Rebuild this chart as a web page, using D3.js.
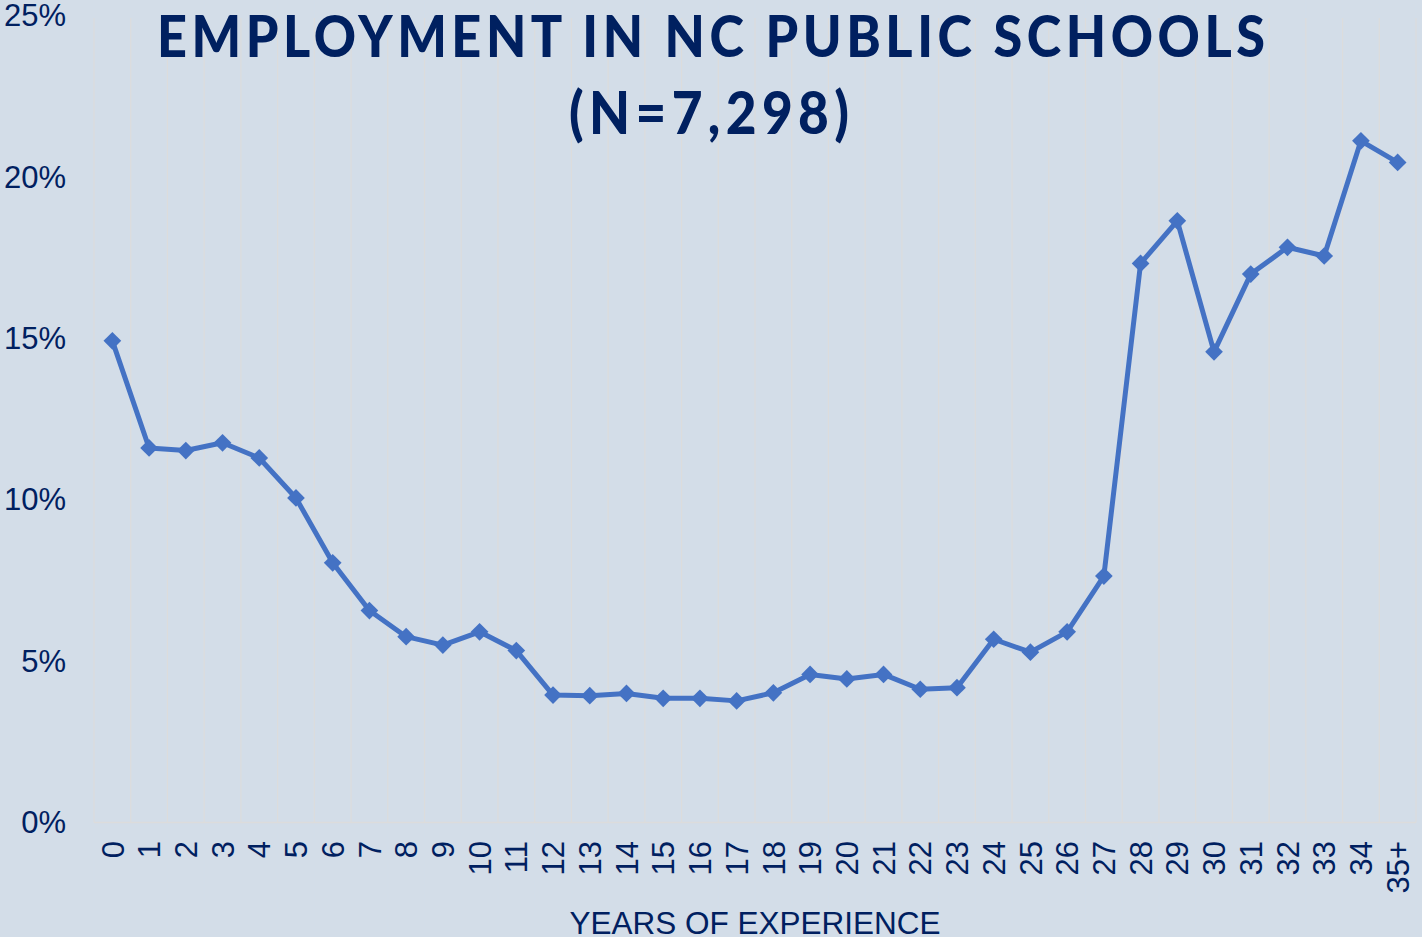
<!DOCTYPE html>
<html>
<head>
<meta charset="utf-8">
<script src="https://cdn.jsdelivr.net/npm/d3@7"></script>
<style>
  body { margin: 0; background: #d3dde8; }
  svg { display: block; }
</style>
</head>
<body>
<script>
// years of experience categories
const years = ["0","1","2","3","4","5","6","7","8","9","10","11","12","13","14","15","16","17",
  "18","19","20","21","22","23","24","25","26","27","28","29","30","31","32","33","34","35+"];

// percent employed in NC public schools
const pctEmployed = [14.93, 11.61, 11.53, 11.77, 11.30, 10.06, 8.05, 6.57, 5.76, 5.50, 5.91, 5.33,
  3.95, 3.93, 4.00, 3.85, 3.85, 3.77, 4.02, 4.59, 4.45, 4.59, 4.13, 4.18,
  5.68, 5.28, 5.91, 7.64, 17.33, 18.65, 14.59, 17.00, 17.83, 17.56, 21.13, 20.46];

const yTicks = [0, 5, 10, 15, 20, 25];
const titleLines = ["EMPLOYMENT IN NC PUBLIC SCHOOLS", "(N=7,298)"];
const xTitle = "YEARS OF EXPERIENCE";

const W = 1422, H = 937;
const navy = "#002060", blue = "#4472c4", grid = "#dcdcdc";

const svg = d3.select("body").append("svg")
  .attr("width", W)
  .attr("height", H);

svg.append("rect")
  .attr("width", W).attr("height", H)
  .attr("fill", "#d3dde8");

const x = d3.scaleBand()
  .domain(years)
  .range([94, 1416])
  .padding(0);

const y = d3.scaleLinear()
  .domain([0, 25])
  .range([822.5, 16]);

// vertical gridlines at category boundaries
svg.append("g")
  .selectAll("line")
  .data(years.concat(["end"]))
  .enter()
    .append("line")
      .attr("x1", (d, i) => 94 + i * x.bandwidth())
      .attr("x2", (d, i) => 94 + i * x.bandwidth())
      .attr("y1", 18)
      .attr("y2", y(0))
      .attr("stroke", grid)
      .attr("stroke-width", 1.2);

// baseline
svg.append("line")
  .attr("x1", 94).attr("x2", 1416)
  .attr("y1", y(0)).attr("y2", y(0))
  .attr("stroke", grid)
  .attr("stroke-width", 1.5);

// y axis labels
const yAxis = d3.axisLeft(y)
  .tickValues(yTicks)
  .tickFormat(d => d + "%")
  .tickSize(0)
  .tickPadding(0);

const gy = svg.append("g")
  .attr("transform", "translate(66,0)")
  .call(yAxis);
gy.select(".domain").remove();
gy.selectAll("text")
  .attr("fill", navy)
  .style("font-family", "'Liberation Sans', Arial, sans-serif")
  .style("font-size", "31px");

// x axis labels (rotated)
const xAxis = d3.axisBottom(x).tickSize(0).tickPadding(0);
const gx = svg.append("g")
  .attr("transform", "translate(0,841)")
  .call(xAxis);
gx.select(".domain").remove();
gx.selectAll("text")
  .attr("fill", navy)
  .attr("transform", "rotate(-90)")
  .attr("text-anchor", "end")
  .attr("x", 0)
  .attr("y", 0)
  .attr("dy", "0.36em")
  .style("font-family", "'Liberation Sans', Arial, sans-serif")
  .style("font-size", "31px");

// line
const line = d3.line()
  .x((d, i) => x(years[i]) + x.bandwidth() / 2)
  .y(d => y(d));

svg.append("path")
  .datum(pctEmployed)
  .attr("fill", "none")
  .attr("stroke", blue)
  .attr("stroke-width", 5)
  .attr("stroke-linejoin", "round")
  .attr("d", line);

// diamond markers
svg.append("g")
  .selectAll("path")
  .data(pctEmployed)
  .enter()
    .append("path")
      .attr("d", d3.symbol().type(d3.symbolDiamond2).size(200))
      .attr("transform", (d, i) => "translate(" + (x(years[i]) + x.bandwidth() / 2) + "," + y(d) + ")")
      .attr("fill", blue);

// title (narrowed glyphs, wider spacing like the original)
const sx = 0.9;
const titleG = svg.append("g").attr("transform", "scale(" + sx + ",1)");

titleG.append("text")
  .attr("x", 711 / sx).attr("y", 57)
  .attr("text-anchor", "middle")
  .attr("textLength", 1108 / sx)
  .attr("lengthAdjust", "spacing")
  .attr("fill", navy)
  .style("font-family", "Lato, 'Open Sans', sans-serif")
  .style("font-weight", 900)
  .style("font-size", "58px")
  .text(titleLines[0]);

titleG.append("text")
  .attr("x", 709 / sx).attr("y", 134)
  .attr("text-anchor", "middle")
  .attr("textLength", 280 / sx)
  .attr("lengthAdjust", "spacing")
  .attr("fill", navy)
  .style("font-family", "Lato, 'Open Sans', sans-serif")
  .style("font-weight", 900)
  .style("font-size", "59px")
  .text(titleLines[1]);

// x axis title
svg.append("text")
  .attr("x", 755).attr("y", 934)
  .attr("text-anchor", "middle")
  .attr("fill", navy)
  .style("font-family", "'Liberation Sans', Arial, sans-serif")
  .style("font-size", "31.5px")
  .text(xTitle);
</script>
</body>
</html>
